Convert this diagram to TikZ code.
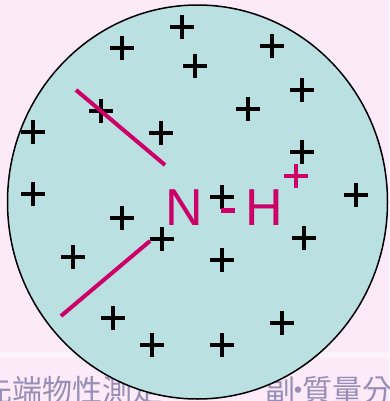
\documentclass[tikz,border=0pt]{standalone}
\usepackage{fontspec}
\usetikzlibrary{shapes.geometric}
\setmainfont{Liberation Sans}
\newfontfamily\cjkfont{Noto Sans CJK TC}
\definecolor{bgpink}{RGB}{252,234,249}
\definecolor{cyanfill}{RGB}{186,224,226}
\definecolor{mag}{RGB}{204,0,102}
\definecolor{greytext}{RGB}{150,142,182}
\begin{document}
\begin{tikzpicture}[x=1pt,y=-1pt,
  plusmark/.style={line width=4.3pt,black},
  magplus/.style={line width=4.3pt,mag},
  ionline/.style={line width=4pt,mag},
  bigletter/.style={inner sep=0pt,text=mag,font=\fontsize{52}{52}\selectfont,anchor=base west},
  cjktext/.style={inner sep=0pt,text=greytext,font=\cjkfont\fontsize{30}{30}\selectfont}]
\fill[bgpink] (0,0) rectangle (389,401);
\useasboundingbox (0,0) rectangle (389,401);
\fill[white,opacity=0.45] (0,352) rectangle (389,358);
% background text (partly hidden by the circle)
\node[cjktext,anchor=base west] (tl) at (-18,401) {先端物性測定};
\node[cjktext,anchor=base east] (tm) at (296,401) {副};
\node[cjktext,anchor=base] (td) at (298,401) {·};
\node[cjktext,anchor=base west] (tr) at (302,401) {質量分};
% circle
\node[draw=black,line width=1.5pt,fill=cyanfill,ellipse,minimum width=380pt,minimum height=394pt,inner sep=0pt] (disc) at (197.5,202) {};
% plus signs
\foreach \px/\py [count=\i] in {182/27,122/48,195/66,272/46,302/90,101/111,161/133,248/109,33/132,302/152,33/194,122/218,222/197,356/195,162/239,73/257,304/238,222/260,113/318,282/323,152/345,222/345}{
  \coordinate (p\i) at (\px,\py);
  \draw[plusmark] ([xshift=-12pt]p\i) -- ([xshift=12pt]p\i);
  \draw[plusmark] ([yshift=-12pt]p\i) -- ([yshift=12pt]p\i);
}
% N - H+
\node[bigletter] (N) at (165,225) {N};
\node[bigletter] (H) at (245,225) {H};
\coordinate (dashl) at (221,210.5);
\coordinate (dashr) at (235,210.5);
\draw[line width=4.7pt,mag] (dashl) -- (dashr);
\coordinate (hp) at (296,176);
\draw[magplus] ([xshift=-12pt]hp) -- ([xshift=12pt]hp);
\draw[magplus] ([yshift=-12pt]hp) -- ([yshift=12pt]hp);
% lines
\coordinate (a1) at (76,90);
\coordinate (a2) at (165,165);
\coordinate (b1) at (61,316);
\coordinate (b2) at (150,241);
\draw[ionline] (a1) -- (a2);
\draw[ionline] (b1) -- (b2);
\end{tikzpicture}
\end{document}
